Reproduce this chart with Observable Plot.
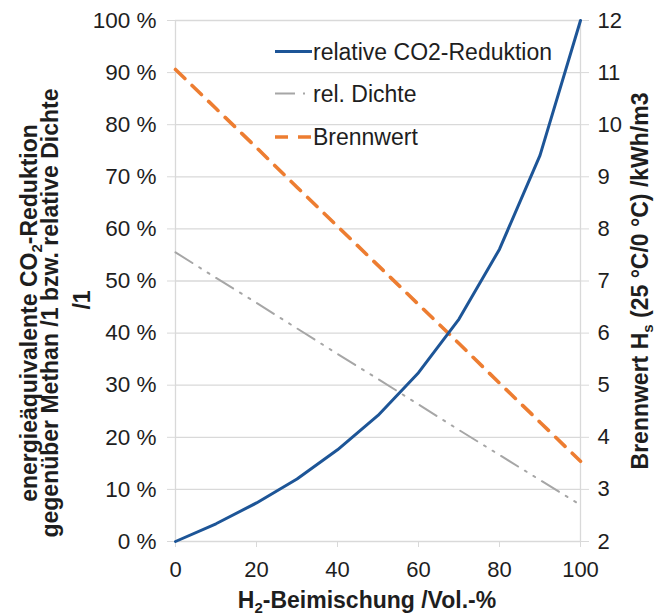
<!DOCTYPE html>
<html>
<head>
<meta charset="utf-8">
<script src="https://cdn.jsdelivr.net/npm/d3@7"></script>
<script src="https://cdn.jsdelivr.net/npm/@observablehq/plot@0.6"></script>
<style>
  html, body { margin: 0; padding: 0; background: #fff; }
  #chart svg { display: block; }
</style>
</head>
<body>
<div id="chart"></div>
<script>
// H2 admixture (Vol.-%)
const h2 = [0, 10, 20, 30, 40, 50, 60, 70, 80, 90, 100];
// relative CO2 reduction (%)
const co2Reduktion = [0, 3.4, 7.4, 12.0, 17.6, 24.2, 32.4, 42.7, 56.1, 74.1, 100];
// relative density (%)
const relDichte = [55.5, 50.6, 45.8, 40.9, 36.0, 31.2, 26.3, 21.4, 16.6, 11.8, 7.0];
// gross calorific value (kWh/m3), right axis
const brennwert = [11.06, 10.31, 9.56, 8.80, 8.05, 7.30, 6.55, 5.80, 5.04, 4.29, 3.54];

const leftTicks = [0, 10, 20, 30, 40, 50, 60, 70, 80, 90, 100];
const rightTickLabels = [2, 3, 4, 5, 6, 7, 8, 9, 10, 11, 12];
const xTicks = [0, 20, 40, 60, 80, 100];
const seriesNames = ["relative CO2-Reduktion", "rel. Dichte", "Brennwert"];

const rightMin = 2, rightMax = 12;
const toLeft = v => (v - rightMin) / (rightMax - rightMin) * 100;

const rows = h2.map((x, i) => ({
  x,
  co2: co2Reduktion[i],
  dichte: relDichte[i],
  bw: toLeft(brennwert[i])
}));

const BLUE = "#1d5597", ORANGE = "#ED7D31", GRAY = "#A6A6A6", GRID = "#d9d9d9", TEXT = "#1e1e1e";
const DASH_ORANGE = "13,10", DASH_GRAY = "20,8,2,8,2,8";

const chart = Plot.plot({
  width: 658,
  height: 616,
  marginLeft: 175,
  marginRight: 78,
  marginTop: 20,
  marginBottom: 75,
  style: { fontFamily: "'Liberation Sans', Arial, sans-serif", fontSize: "22px", color: TEXT, background: "#fff" },
  x: { domain: [0, 100] },
  y: { domain: [0, 100] },
  marks: [
    Plot.gridY(leftTicks, { stroke: GRID, strokeOpacity: 1, strokeWidth: 1.3 }),
    Plot.ruleX([0, 100], { stroke: GRID, strokeWidth: 1.3 }),
    Plot.axisY(leftTicks, { anchor: "left", tickFormat: d => d + " %", tickSize: 8, tickPadding: 11, stroke: GRID, fill: TEXT, label: null, fontSize: 22.5 }),
    Plot.axisY(leftTicks, { anchor: "right", tickFormat: (d, i) => String(rightTickLabels[i]), tickSize: 8, tickPadding: 9, stroke: GRID, fill: TEXT, label: null, fontSize: 22 }),
    Plot.axisX(xTicks, { anchor: "bottom", tickSize: 6, tickPadding: 14, stroke: GRID, fill: TEXT, label: null, fontSize: 22 }),
    Plot.line(rows, { x: "x", y: "dichte", stroke: GRAY, strokeWidth: 2, strokeDasharray: DASH_GRAY }),
    Plot.line(rows, { x: "x", y: "bw", stroke: ORANGE, strokeWidth: 3.6, strokeDasharray: DASH_ORANGE }),
    Plot.line(rows, { x: "x", y: "co2", stroke: BLUE, strokeWidth: 3 })
  ]
});
document.getElementById("chart").appendChild(chart);

const svg = d3.select(chart);
const FONT = "'Liberation Sans', Arial, sans-serif";

// Legend
const legend = [
  { name: seriesNames[0], stroke: BLUE, w: 3, dash: null, y: 51.5 },
  { name: seriesNames[1], stroke: GRAY, w: 2, dash: DASH_GRAY, y: 93.5 },
  { name: seriesNames[2], stroke: ORANGE, w: 3.6, dash: DASH_ORANGE, y: 137 }
];
const lg = svg.append("g");
legend.forEach(d => {
  lg.append("line").attr("x1", 275).attr("x2", 312).attr("y1", d.y).attr("y2", d.y)
    .attr("stroke", d.stroke).attr("stroke-width", d.w)
    .attr("stroke-dasharray", d.dash);
  lg.append("text").attr("x", 313).attr("y", d.y).attr("dy", "0.35em")
    .attr("text-anchor", "start")
    .attr("font-family", FONT).attr("font-size", 23).attr("fill", TEXT).text(d.name);
});

// Axis titles
function title(transform, size) {
  return svg.append("text").attr("transform", transform).attr("text-anchor", "middle")
    .attr("font-family", FONT).attr("font-weight", "bold").attr("font-size", size).attr("fill", TEXT);
}
// bottom
const bt = title("translate(367,608)", 23);
bt.append("tspan").text("H");
bt.append("tspan").attr("font-size", 15).attr("dy", 5).text("2");
bt.append("tspan").attr("dy", -5).text("-Beimischung /Vol.-%");

// left (3 lines)
const l1 = title("translate(37,313) rotate(-90)", 23);
l1.append("tspan").text("energieäquivalente CO");
l1.append("tspan").attr("font-size", 15).attr("dy", 5).text("2");
l1.append("tspan").attr("dy", -5).text("-Reduktion");
title("translate(58,313) rotate(-90)", 23).text("gegenüber Methan /1 bzw. relative Dichte");
title("translate(90,300) rotate(-90)", 23).text("/1");

// right
const rt = title("translate(648,281) rotate(-90)", 23);
rt.append("tspan").text("Brennwert H");
rt.append("tspan").attr("font-size", 15).attr("dy", 5).text("s");
rt.append("tspan").attr("dy", -5).text(" (25 °C/0 °C) /kWh/m3");
</script>
</body>
</html>
